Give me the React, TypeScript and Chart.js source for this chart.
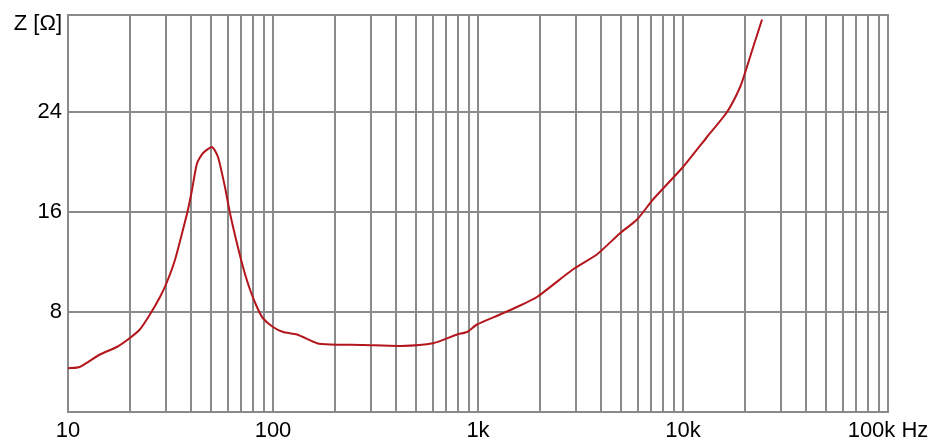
import { useEffect, useRef } from 'react';
import { Chart, registerables } from 'chart.js';

Chart.register(...registerables);

// Impedance curve (frequency in Hz, impedance in ohms)
const freqHz = [
  10, 11.4, 14.3, 17.3, 19.6, 22.4, 25.1, 28.1, 30.4, 33.3, 36.4, 38.5, 40.3, 42.6, 45.5,
  50.4, 53.9, 58.3, 61.7, 66.7, 71.4, 77.2, 83.5, 89.3, 100, 112, 131, 164, 190, 275,
  417, 603, 790, 884, 988, 1280, 1550, 1940, 2900, 3800, 4930, 5970, 7140, 10000,
  13100, 16400, 19000, 20500, 22000, 24300,
];
const impedanceOhm = [
  3.5, 3.6, 4.6, 5.2, 5.8, 6.6, 7.8, 9.2, 10.4, 12.2, 14.6, 16.2, 17.8, 19.9, 20.7,
  21.2, 20.4, 18.0, 15.9, 13.5, 11.6, 9.8, 8.4, 7.5, 6.8, 6.4, 6.2, 5.5, 5.4, 5.36,
  5.28, 5.5, 6.2, 6.4, 7.0, 7.8, 8.4, 9.2, 11.4, 12.6, 14.3, 15.4, 17.0, 19.6,
  22.0, 24.0, 26.0, 27.6, 29.2, 31.4,
];

const xDecades = [10, 100, 1000, 10000];
const xMultipliers = [1, 2, 3, 4, 5, 6, 7, 8, 9];
const xTickValues = [...xDecades.flatMap((d) => xMultipliers.map((m) => m * d)), 100000];
const xTickLabels: Record<number, string> = {
  10: '10',
  100: '100',
  1000: '1k',
  10000: '10k',
  100000: '100k Hz',
};
const yTickValues = [8, 16, 24];
const yAxisTitle = 'Z [Ω]';

const GRID = '#8a8a8a';

export default function App() {
  const ref = useRef<HTMLCanvasElement | null>(null);

  useEffect(() => {
    if (!ref.current) return;
    const framePlugin = {
      id: 'frame',
      beforeDatasetsDraw(chart: any) {
        const { ctx, chartArea } = chart;
        ctx.save();
        ctx.strokeStyle = GRID;
        ctx.lineWidth = 2;
        ctx.strokeRect(chartArea.left, chartArea.top, chartArea.right - chartArea.left, chartArea.bottom - chartArea.top);
        ctx.restore();
      },
      afterDraw(chart: any) {
        const { ctx, chartArea } = chart;
        ctx.save();
        ctx.fillStyle = '#000';
        ctx.font = '22px "Liberation Sans", Arial, sans-serif';
        ctx.textAlign = 'right';
        ctx.textBaseline = 'middle';
        ctx.fillText(yAxisTitle, chartArea.left - 6, 24);
        ctx.restore();
      },
    };

    const chart = new Chart(ref.current, {
      type: 'line',
      data: {
        datasets: [
          {
            data: freqHz.map((f, i) => ({ x: f, y: impedanceOhm[i] })),
            borderColor: '#b3161c',
            borderWidth: 2,
            pointRadius: 0,
            tension: 0.2,
            fill: false,
          },
        ],
      },
      options: {
        animation: false,
        responsive: true,
        maintainAspectRatio: false,
        layout: { padding: { left: 0, right: 40, top: 15, bottom: 0 } },
        plugins: { legend: { display: false }, tooltip: { enabled: false } },
        scales: {
          x: {
            type: 'logarithmic',
            min: 10,
            max: 100000,
            afterBuildTicks: (s: any) => {
              s.ticks = xTickValues.map((v) => ({ value: v }));
            },
            afterFit: (s: any) => {
              s.height = 33;
              s.paddingLeft = 0;
              s.paddingRight = 0;
            },
            ticks: {
              autoSkip: false,
              maxRotation: 0,
              padding: 6,
              color: '#000',
              font: { family: '"Liberation Sans", Arial, sans-serif', size: 22 },
              callback: (v: any) => xTickLabels[Number(v)] ?? '',
            },
            grid: { color: GRID, lineWidth: 2, drawTicks: false },
            border: { display: false },
          },
          y: {
            type: 'linear',
            min: 0,
            max: 31.76,
            afterBuildTicks: (s: any) => {
              s.ticks = yTickValues.map((v) => ({ value: v }));
            },
            afterFit: (s: any) => {
              s.width = 68;
              s.paddingTop = 0;
              s.paddingBottom = 0;
            },
            ticks: {
              padding: 6,
              color: '#000',
              font: { family: '"Liberation Sans", Arial, sans-serif', size: 22 },
            },
            grid: { color: GRID, lineWidth: 2, drawTicks: false },
            border: { display: false },
          },
        },
      },
      plugins: [framePlugin],
    });
    return () => chart.destroy();
  }, []);

  return (
    <div style={{ position: 'fixed', left: 0, top: 0, width: 928, height: 445, background: '#fff' }}>
      <canvas ref={ref} />
    </div>
  );
}
